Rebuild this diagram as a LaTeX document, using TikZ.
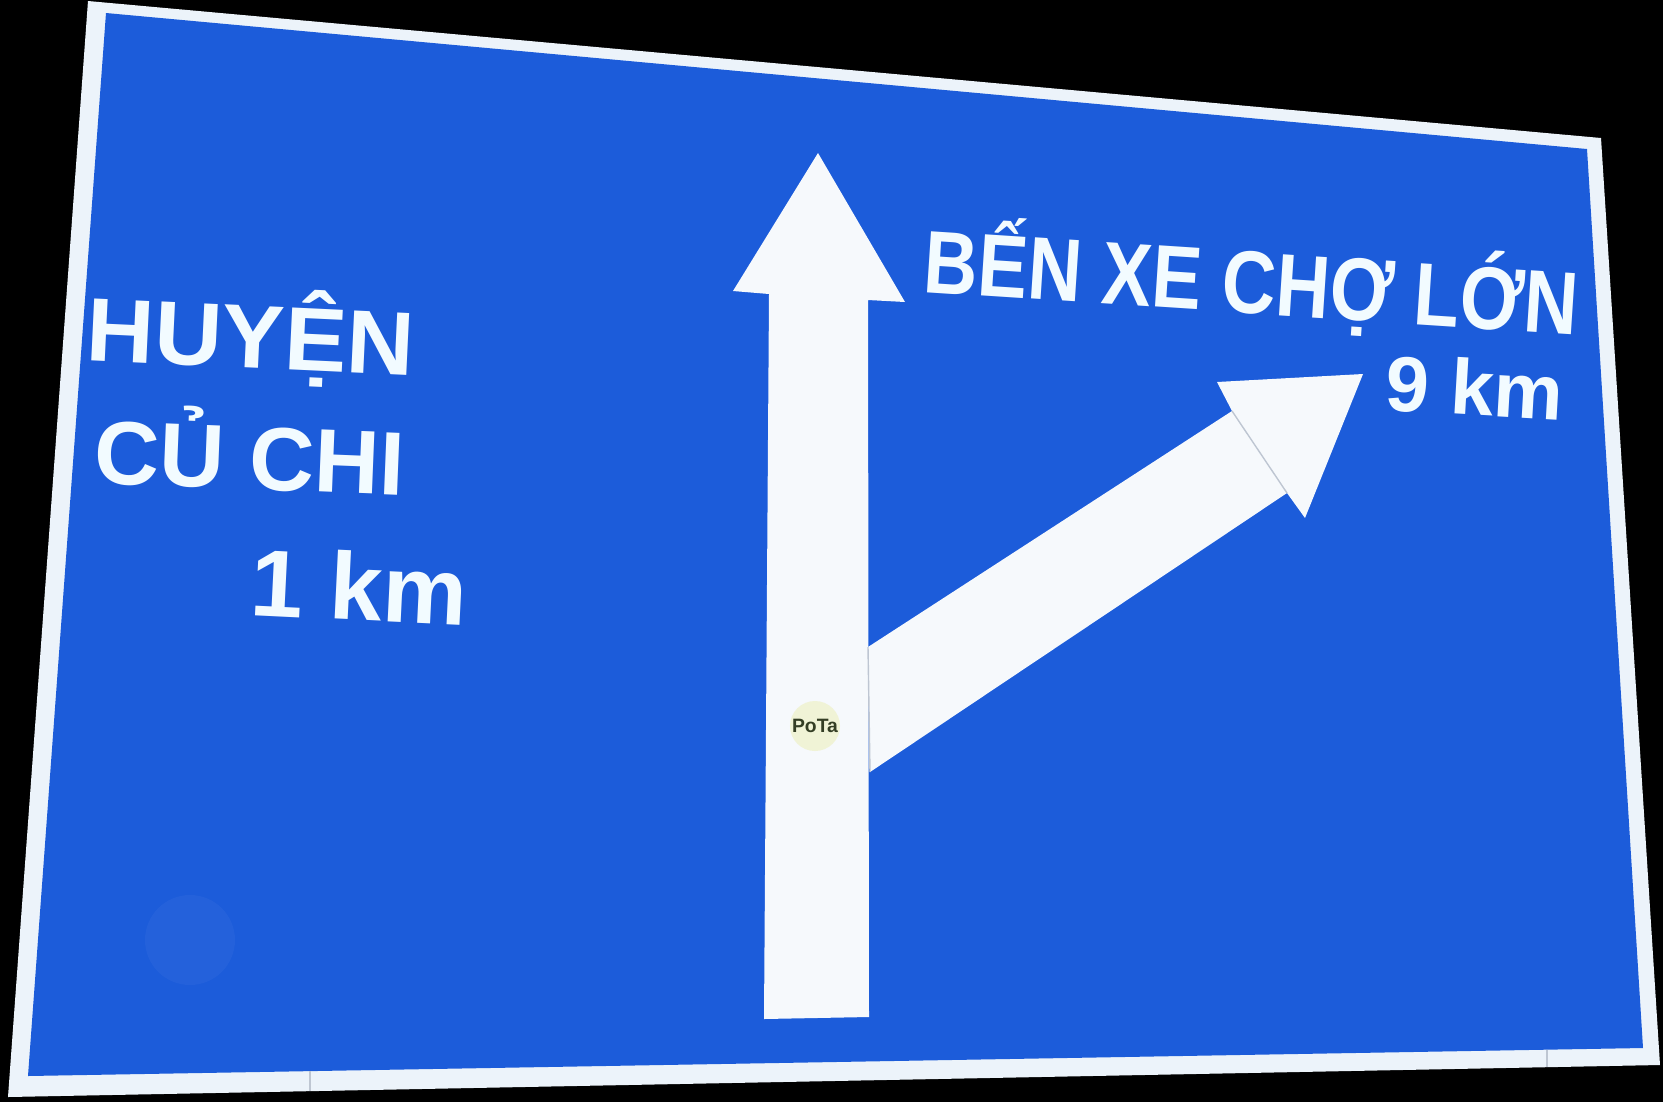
\documentclass[tikz,border=0pt]{standalone}
\usepackage{fontspec}
\setmainfont{Liberation Sans}
\definecolor{signblue}{RGB}{28,92,218}
\definecolor{signrim}{RGB}{236,243,250}
\definecolor{arrowwhite}{RGB}{246,249,252}
\definecolor{textwhite}{RGB}{242,251,255}
\definecolor{seamgrey}{RGB}{190,198,210}
\definecolor{stickerbg}{RGB}{240,243,214}
\definecolor{stickerink}{RGB}{52,62,36}

\begin{document}
\begin{tikzpicture}[x=0.01cm, y=-0.01cm, sign text/.style={text=textwhite, inner sep=0pt, anchor=base west}, seam/.style={seamgrey, line width=0.4pt}]

			\useasboundingbox (0,0) rectangle (1663,1102);
			\fill[black] (0,0) rectangle (1663,1102);

			% plate with its white rim
			\fill[signrim] (88,1) -- (1601,138) -- (1660,1065) -- (8,1097) -- cycle;
			\fill[signblue] (106,13) -- (1587,149) -- (1643,1048) -- (28,1076) -- cycle;
			\fill[white, fill opacity=0.035] (190,940) circle (45);
			\draw[seam] (310,1071) -- (310,1091);
			\draw[seam] (1547,1050) -- (1547,1067);

			% straight on
			\fill[arrowwhite] (764,1019) -- (769,294) -- (733,291) -- (818,153) -- (905,302) -- (868,300) -- (869,1017) -- cycle;
			% bear right
			\fill[arrowwhite] (868,647) -- (1232,411) -- (1217,382) -- (1363,374) -- (1305,518) -- (1287,493) -- (870,772) -- cycle;
			\draw[seam] (868,647) -- (870,772);
			\draw[seam] (1232,411) -- (1287,493);

			\node[circle, fill=stickerbg, minimum size=0.5cm, inner sep=0pt, text=stickerink, font=\bfseries\fontsize{5.5}{6}\selectfont] (sticker) at (815,726) {PoTa};

			% left destination
			\node[sign text, rotate=-2.7, xscale=1.04, font=\bfseries\fontsize{25.6}{30}\selectfont] (huyen) at (85,360) {HUYỆN};
			\node[sign text, rotate=-2.3, font=\bfseries\fontsize{25.6}{30}\selectfont] (cuchi) at (93,483) {CỦ CHI};
			\node[sign text, rotate=-2.8, font=\bfseries\fontsize{27}{32}\selectfont] (leftdist) at (249,615) {1 km};

			% right destination
			\node[sign text, rotate=-3.75, xscale=0.84, font=\bfseries\fontsize{25.3}{30}\selectfont] (benxe) at (922,292) {BẾN XE CHỢ LỚN};
			\node[sign text, rotate=-3.3, font=\bfseries\fontsize{22.2}{26}\selectfont] (rightdist) at (1384,410) {9 km};

		\end{tikzpicture}
\end{document}
